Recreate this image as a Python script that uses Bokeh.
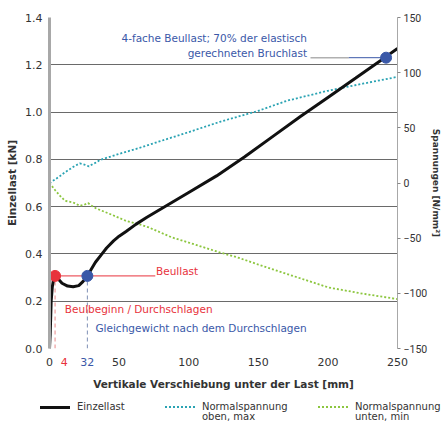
from bokeh.plotting import figure
from bokeh.layouts import column
from bokeh.models import (Range1d, LinearAxis, FixedTicker, Label, Div,
                          CustomJSTickFormatter)
from bokeh.embed import file_html
from bokeh.resources import INLINE

# ---------------- data ----------------
disp_load = [0, 0.5, 1.2, 2, 3, 4, 6, 9, 13, 17, 21, 24, 27.2, 30, 33, 37, 41, 46, 50,
             55, 62, 70, 80, 90, 100, 120, 140, 160, 180, 200, 220, 240, 250]
load = [0, 0.06, 0.2, 0.26, 0.295, 0.307, 0.296, 0.276, 0.264, 0.261, 0.266, 0.283, 0.307,
        0.335, 0.365, 0.395, 0.425, 0.455, 0.475, 0.495, 0.525, 0.555, 0.59, 0.625, 0.66,
        0.73, 0.81, 0.895, 0.98, 1.062, 1.144, 1.227, 1.269]

disp_top = [0, 4, 7.6, 11, 14.7, 18, 21.8, 25, 28.4, 31, 33.6, 36, 50, 64.3, 80, 100,
            122.5, 150, 170.7, 200, 225, 250]
stress_top = [0, 3.2, 6.4, 9.6, 12.6, 15.4, 17.8, 16.7, 15.0, 17.1, 18.6, 20.8, 26.4, 31.7,
              38.1, 46.1, 55.5, 65.4, 74.6, 83.6, 90.0, 96.2]

disp_bot = [0, 4, 7.6, 11.1, 17, 21.8, 25, 27.7, 30, 33.6, 45, 54.9, 64.3, 71.4, 87.9, 100,
            122.5, 135.2, 150, 170.7, 200.5, 225, 250]
stress_bot = [0, -6.4, -11.6, -16.1, -17.6, -20.6, -19.7, -18.2, -20.4, -23.1, -28.9, -34.3,
              -37.3, -40.3, -49.3, -54.0, -63.0, -67.5, -73.9, -82.5, -94.7, -100.3, -105.2]

buckling_disp, buckling_load = [4], [0.307]
equil_disp, equil_load = [27.2], [0.307]
ultimate_disp, ultimate_load = [241.8], [1.23]

x_ticks = [0, 50, 100, 150, 200, 250]
y_ticks = [0, 0.2, 0.4, 0.6, 0.8, 1.0, 1.2, 1.4]
stress_ticks = [-150, -100, -50, 0, 50, 100, 150]

series_names = ["Einzellast", "Normalspannung<br>oben, max", "Normalspannung<br>unten, min"]

FONT = "DejaVu Sans"
RED = "#e8323c"
BLUE = "#3a58a8"
CYAN = "#2aa3b3"
GREEN = "#8cc63f"
TXT = "#333333"

p = figure(width=444, height=394, x_range=Range1d(0, 250), y_range=Range1d(0, 1.4),
           output_backend="svg", toolbar_location=None,
           min_border_left=49, min_border_right=42, min_border_top=17, min_border_bottom=46)
p.extra_y_ranges = {"stress": Range1d(-150, 150)}
p.outline_line_color = None
p.xgrid.grid_line_color = None
p.ygrid.grid_line_color = "#6a6a6a"
p.ygrid.grid_line_width = 1
p.ygrid.ticker = FixedTicker(ticks=y_ticks)


def style_x(ax):
    ax.axis_line_color = None
    ax.major_tick_line_color = None
    ax.minor_tick_line_color = None
    ax.major_tick_in = 0
    ax.major_tick_out = 0
    ax.minor_tick_in = 0
    ax.minor_tick_out = 0
    ax.major_label_text_font = FONT
    ax.major_label_text_font_size = "11px"


# main x axis
xa = p.xaxis[0]
xa.ticker = FixedTicker(ticks=x_ticks)
style_x(xa)
xa.major_label_text_color = TXT
xa.major_label_standoff = -11
xa.axis_label = "Vertikale Verschiebung unter der Last [mm]"
xa.axis_label_text_font = FONT
xa.axis_label_text_font_size = "10.5px"
xa.axis_label_text_font_style = "bold"
xa.axis_label_text_color = TXT
xa.axis_label_standoff = 9

# coloured tick labels "4" and "32" (same row as the main labels)
ax4 = LinearAxis(ticker=FixedTicker(ticks=[10.6]), major_label_overrides={10.6: "4"})
style_x(ax4)
ax4.major_label_text_color = RED
ax4.major_label_standoff = 9
ax32 = LinearAxis(ticker=FixedTicker(ticks=[27.2]), major_label_overrides={27.2: "32"})
style_x(ax32)
ax32.major_label_text_color = BLUE
ax32.major_label_standoff = -11
p.below = [ax4, ax32, xa]

# left axis
ya = p.yaxis[0]
ya.ticker = FixedTicker(ticks=y_ticks)
ya.formatter = CustomJSTickFormatter(code="return tick.toFixed(1);")
ya.axis_label = "Einzellast [kN]"
ya.axis_line_color = "#a8a8a8"
ya.axis_line_width = 3
ya.major_tick_line_color = None
ya.minor_tick_line_color = None
ya.major_tick_out = 0
ya.minor_tick_out = 0
ya.major_label_text_font = FONT
ya.major_label_text_font_size = "11px"
ya.major_label_text_color = TXT
ya.major_label_standoff = 7
ya.axis_label_text_font = FONT
ya.axis_label_text_font_size = "10.5px"
ya.axis_label_text_font_style = "bold"
ya.axis_label_text_color = TXT
ya.axis_label_standoff = 4

# right axis
ra = LinearAxis(y_range_name="stress", ticker=FixedTicker(ticks=stress_ticks),
                axis_label="Spannungen [N/mm²]")
ra.axis_line_color = "#a8a8a8"
ra.axis_line_width = 1
ra.major_tick_in = 0
ra.major_tick_out = 3
ra.major_tick_line_color = "#888888"
ra.minor_tick_line_color = None
ra.minor_tick_out = 0
ra.major_label_text_font = "Roboto"
ra.major_label_text_font_size = "10.5px"
ra.major_label_text_color = TXT
ra.major_label_standoff = 3
ra.axis_label_text_font = FONT
ra.axis_label_text_font_size = "9px"
ra.axis_label_text_font_style = "bold"
ra.axis_label_text_color = TXT
ra.axis_label_standoff = 1
p.add_layout(ra, "right")

# reference lines (buckling / equilibrium)
p.segment(x0=buckling_disp, y0=[0], x1=buckling_disp, y1=buckling_load,
          line_color="#e88a8a", line_dash="4 3", line_width=1)
p.segment(x0=equil_disp, y0=[0], x1=equil_disp, y1=equil_load,
          line_color="#7f8fb5", line_dash="4 3", line_width=1)
p.segment(x0=buckling_disp, y0=buckling_load, x1=[76], y1=buckling_load,
          line_color=RED, line_width=1)
p.segment(x0=[187.5], y0=ultimate_load, x1=[215], y1=ultimate_load,
          line_color="#b0b0b0", line_width=1.5)
p.segment(x0=[215], y0=ultimate_load, x1=ultimate_disp, y1=ultimate_load,
          line_color=BLUE, line_width=1)

# series
p.line(disp_top, stress_top, y_range_name="stress", line_color=CYAN,
       line_width=1.8, line_dash="2 2")
p.line(disp_bot, stress_bot, y_range_name="stress", line_color=GREEN,
       line_width=1.8, line_dash="2 2")
p.line(disp_load, load, line_color="#111111", line_width=3)

p.scatter(buckling_disp, buckling_load, size=11, color=RED)
p.scatter(equil_disp, equil_load, size=11, color=BLUE)
p.scatter(ultimate_disp, ultimate_load, size=11, color=BLUE)


# annotations
def lab(x, y, t, color, align="left"):
    p.add_layout(Label(x=x, y=y, text=t, text_color=color, text_font=FONT,
                       text_font_size="10.5px", text_align=align, text_baseline="middle"))


lab(76.5, 0.326, "Beullast", RED)
lab(11, 0.168, "Beulbeginn / Durchschlagen", RED)
lab(33, 0.085, "Gleichgewicht nach dem Durchschlagen", BLUE)
lab(185, 1.314, "4-fache Beullast; 70% der elastisch", BLUE, "right")
lab(185, 1.251, "gerechneten Bruchlast", BLUE, "right")

# ---------------- legend strip (HTML) ----------------
samples = ["3px solid #111111", f"2px dotted {CYAN}", f"2px dotted {GREEN}"]
lefts = [40, 165, 318]
parts = []
for name, border, left in zip(series_names, samples, lefts):
    parts.append(f'<div style="position:absolute;left:{left}px;top:12px;width:30px;'
                 f'border-top:{border};"></div>')
    parts.append(f'<div style="position:absolute;left:{left + 37}px;top:8px;'
                 f'white-space:nowrap;">{name}</div>')
html = ('<div style="position:relative;width:444px;height:29px;'
        f'font-family:\'{FONT}\';font-size:10px;line-height:9.5px;color:{TXT};">'
        + "".join(parts) + "</div>")
legend_div = Div(text=html, width=444, height=29, margin=0)

open("out.html", "w").write(file_html(column(p, legend_div, spacing=0), INLINE))
